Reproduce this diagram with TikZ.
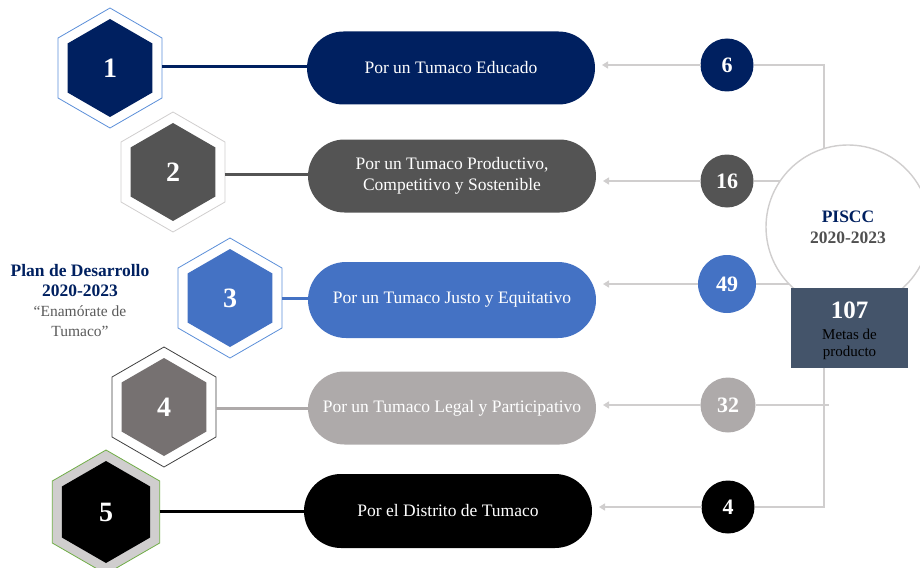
\documentclass[tikz,border=0pt]{standalone}
\usepackage{fontspec}
\setmainfont{Liberation Serif}
\usetikzlibrary{shapes.geometric,shapes.misc,arrows.meta}
\definecolor{navy}{HTML}{002060}
\definecolor{dgray}{HTML}{545454}
\definecolor{mblue}{HTML}{4472C4}
\definecolor{lgray}{HTML}{AEAAAA}
\definecolor{lline}{HTML}{D0CECE}
\definecolor{slate}{HTML}{44546A}
\definecolor{hexfour}{HTML}{767171}
\definecolor{ltblue}{HTML}{5B8FD9}
\definecolor{txtgray}{HTML}{595959}
\definecolor{lgreen}{HTML}{70AD47}
\tikzset{
  hexo/.style={regular polygon, regular polygon sides=6, shape border rotate=30, minimum size=120pt, inner sep=0pt, outer sep=0pt, line width=0.8pt},
  hexi/.style={regular polygon, regular polygon sides=6, shape border rotate=30, minimum size=98pt, inner sep=0pt, outer sep=0pt, draw=none, text=white, font=\bfseries\fontsize{28}{30}\selectfont},
  pill/.style={rounded rectangle, minimum width=288pt, minimum height=73pt, inner sep=0pt, outer sep=0pt, text=white, align=center, font=\fontsize{17.5}{21}\selectfont},
  num/.style={circle, minimum size=53pt, inner sep=0pt, outer sep=0pt, text=white, font=\bfseries\fontsize{22}{24}\selectfont},
  link/.style={line width=3pt},
  arr/.style={draw=lline, line width=1.4pt, -{Triangle[width=7pt,length=6pt]}},
  rline/.style={draw=lline, line width=1.4pt},
}
\begin{document}
\begin{tikzpicture}[x=1pt,y=-1pt]
\useasboundingbox (0,0) rectangle (920,567);
\clip (0,0) rectangle (920,567);
% hexagons
\node[hexo, draw=ltblue, fill=white] (h1o) at (110,68) {};
\node[hexi, fill=navy] (h1) at (110,68) {1};
\node[hexo, draw=lline, fill=white] (h2o) at (173,172) {};
\node[hexi, fill=dgray] (h2) at (173,172) {2};
\node[hexo, draw=ltblue, fill=white] (h3o) at (230,298) {};
\node[hexi, fill=mblue] (h3) at (230,298) {3};
\node[hexo, draw=black!75, fill=white] (h4o) at (164,407) {};
\node[hexi, fill=hexfour] (h4) at (164,407) {4};
\node[hexo, draw=lgreen, fill=lline, minimum size=124pt] (h5o) at (106,512) {};
\node[hexi, fill=black, minimum size=102pt] (h5) at (106,512) {5};
% pills
\node[pill, fill=navy] (p1) at (451,68) {Por un Tumaco Educado};
\node[pill, fill=dgray] (p2) at (452,176) {Por un Tumaco Productivo,\\Competitivo y Sostenible};
\node[pill, fill=mblue, minimum height=76pt] (p3) at (452,300) {Por un Tumaco Justo y Equitativo};
\node[pill, fill=lgray] (p4) at (452,408) {Por un Tumaco Legal y Participativo};
\node[pill, fill=black, minimum height=74pt] (p5) at (448,511) {Por el Distrito de Tumaco};
% hex-to-pill links
\draw[link, draw=navy] (h1o.east |- 0,67) -- (p1.west |- 0,67);
\draw[link, draw=dgray] (h2o.east |- 0,174) -- (p2.west |- 0,174);
\draw[link, draw=mblue] (h3o.east |- 0,298) -- (p3.west |- 0,298);
\draw[link, draw=lgray] (h4o.east |- 0,408) -- (p4.west |- 0,408);
\draw[link, draw=black] (h5o.east |- 0,511) -- (p5.west |- 0,511);
% number circles
\node[num, fill=navy] (n1) at (727,65) {6};
\node[num, fill=dgray] (n2) at (727,181) {16};
\node[num, fill=mblue, minimum size=58pt] (n3) at (727,284) {49};
\node[num, fill=lgray, minimum size=55pt] (n4) at (728,405) {32};
\node[num, fill=black] (n5) at (728,507) {4};
% arrows to pills
\draw[arr] (n1.west) -- ([xshift=7pt]p1.east |- n1.west);
\draw[arr] (n2.west) -- ([xshift=7pt]p2.east |- n2.west);
\draw[arr] (n3.west) -- ([xshift=7pt]p3.east |- n3.west);
\draw[arr] (n4.west) -- ([xshift=7pt]p4.east |- n4.west);
\draw[arr] (n5.west) -- ([xshift=7pt]p5.east |- n5.west);
% right connectors
\coordinate (ctop) at (824,65);
\coordinate (cbot) at (824,507);
\coordinate (c4) at (829,405);
\draw[rline] (n1.east) -- (ctop) -- (cbot) -- (n5.east);
\draw[rline] (n2.east) -- (800,181);
\draw[rline] (n3.east) -- (800,284);
\draw[rline] (n4.east) -- (c4);
% big circle
\node[circle, draw=lline, line width=1.4pt, fill=white, minimum size=164pt, inner sep=0pt, align=center, font=\bfseries\fontsize{17.5}{21}\selectfont] (big) at (848,227) {\textcolor{navy}{PISCC}\\\textcolor{txtgray!90!black}{2020-2023}};
% box
\node[fill=slate, minimum width=117pt, minimum height=80pt, inner sep=0pt, align=center] (box) at (849.5,328) {};
\node[text=white, font=\bfseries\fontsize{25}{27}\selectfont] (boxn) at (849.5,310) {107};
\node[text=black, align=center, font=\fontsize{15}{17}\selectfont] (boxt) at (849.5,344) {Metas de\\producto};
% left title
\node[align=center, text=navy, font=\bfseries\fontsize{17.5}{20}\selectfont] (t1) at (80,281) {Plan de Desarrollo\\2020-2023};
\node[align=center, text=txtgray, font=\fontsize{15.5}{20}\selectfont] (t2) at (80,321) {“Enamórate de\\Tumaco”};
\end{tikzpicture}
\end{document}
